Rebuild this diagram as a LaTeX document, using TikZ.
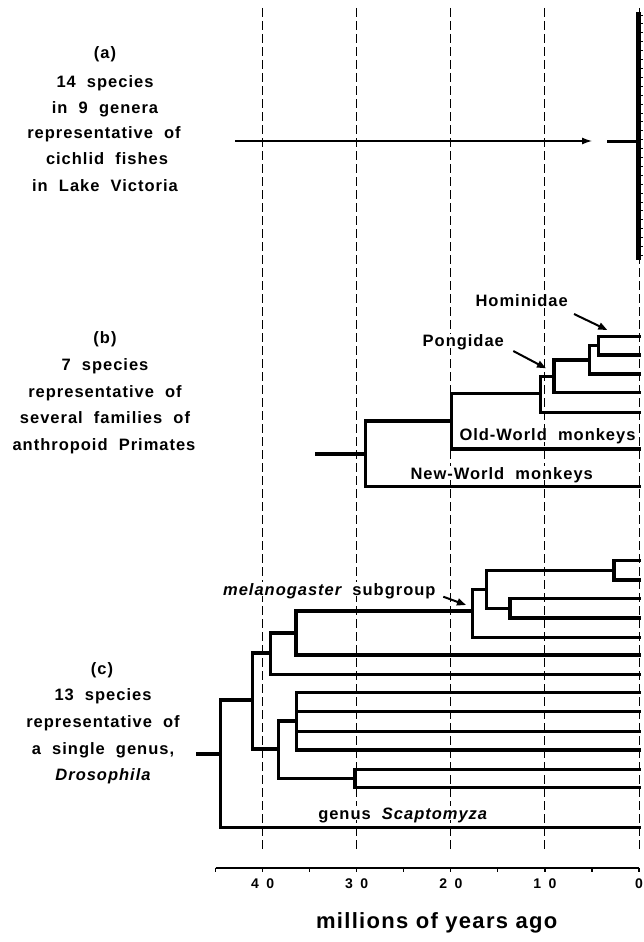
\documentclass[tikz,border=0pt]{standalone}
\usepackage{fontspec}
\setmainfont{Liberation Sans}
\newfontfamily\labfont[LetterSpace=6]{Liberation Sans}
\usetikzlibrary{arrows.meta}
\begin{document}
\begin{tikzpicture}[x=1pt,y=-1pt,
  tree/.style={line width=3.2pt, line cap=rect},
  guide/.style={line width=0.9pt, dash pattern=on 9pt off 4pt},
  lab/.style={font={\labfont\bfseries\fontsize{16.5}{19}\selectfont}, text height=11.8pt, text depth=0pt, inner sep=0pt},
  tlab/.style={lab, fill=white, inner xsep=2pt, inner ysep=1pt},
  axlab/.style={font={\bfseries\fontsize{14}{16}\selectfont}, text height=10pt, text depth=0pt, inner sep=0pt},
  larrow/.style={line width=2pt, -{Triangle[length=9pt,width=7pt]}}
]
\useasboundingbox (0,0) rectangle (643,942);

% ---------- vertical time guides ----------
\foreach \t in {0,10,20,30,40}{
  \coordinate (gt\t) at ({639-9.41*\t},8);
  \coordinate (gb\t) at ({639-9.41*\t},852);
  \draw[guide] (gt\t) -- (gb\t);
}

% ---------- (a) cichlids ----------
\node[lab] (a0) at (105,53)  {(a)};
\node[lab] (a1) at (105,82)  {14~~species};
\node[lab] (a2) at (105,108) {in~~9~~genera};
\node[lab] (a3) at (104,133) {representative~~of};
\node[lab] (a4) at (107,159) {cichlid~~fishes};
\node[lab] (a5) at (105,186) {in~~Lake~~Victoria};

\coordinate (aS) at (235,141);
\coordinate (aE) at (592,141);
\draw[line width=1.3pt, -{Latex[length=10pt,width=7pt]}] (aS) -- (aE);
\coordinate (aStem) at (607,141.5);
\coordinate (aRoot) at (638.5,141.5);
\draw[line width=3.2pt] (aStem) -- (aRoot);
\coordinate (aTop) at (638.5,12);
\coordinate (aBot) at (638.5,260);
\draw[line width=4.5pt] (aTop) -- (aBot);
\foreach \k in {0,...,27}{
  \draw[line width=0.8pt] (640,{15+8.9*\k}) -- ++(2.5,0);
}

% ---------- (b) primates ----------
\node[lab] (b0) at (105,338) {(b)};
\node[lab] (b1) at (105,365) {7~~species};
\node[lab] (b2) at (105,392) {representative~~of};
\node[lab] (b3) at (105,418) {several~~families~~of};
\node[lab] (b4) at (104,445) {anthropoid~~Primates};

\coordinate (bL1) at (639,336.7);
\coordinate (bL2) at (639,355);
\coordinate (bL3) at (639,374);
\coordinate (bL4) at (639,392.7);
\coordinate (bL5) at (639,412.3);
\coordinate (bL6) at (639,449);
\coordinate (bL7) at (639,486.7);
\coordinate (bH)  at (598.3,345.85);
\coordinate (bN2) at (589.3,360);
\coordinate (bN3) at (554,376.35);
\coordinate (bP)  at (540.7,393.65);
\coordinate (bN5) at (451.7,421);
\coordinate (bR)  at (365.7,454);
\coordinate (bS)  at (316.7,454);

\draw[tree] (bH) |- (bL1);  \draw[tree] (bH) |- (bL2);
\draw[tree] (bN2) |- (bH);  \draw[tree] (bN2) |- (bL3);
\draw[tree] (bN3) |- (bN2); \draw[tree] (bN3) |- (bL4);
\draw[tree] (bP) |- (bN3);  \draw[tree] (bP) |- (bL5);
\draw[tree] (bN5) |- (bP);  \draw[tree] (bN5) |- (bL6);
\draw[tree] (bR) |- (bN5);  \draw[tree] (bR) |- (bL7);
\draw[tree] (bS) -- (bR);

\node[tlab] (hom) at (521.7,300.7) {Hominidae};
\node[tlab] (pon) at (463.3,340.7) {Pongidae};
\node[tlab] (oldw) at (547.5,435) {Old-World~~monkeys};
\node[tlab] (neww) at (501.7,473.3) {New-World~~monkeys};

\coordinate (hA) at (574,314);   \coordinate (hB) at (607.3,330);
\coordinate (pA) at (513.3,351); \coordinate (pB) at (546,368.3);
\draw[larrow] (hA) -- (hB);
\draw[larrow] (pA) -- (pB);

% ---------- (c) Drosophila ----------
\node[lab] (c0) at (102,668.3) {(c)};
\node[lab] (c1) at (103,694.3) {13~~species};
\node[lab] (c2) at (103,721.7) {representative~~of};
\node[lab] (c3) at (103,748.3) {a~~single~~genus,};
\node[lab] (c4) at (103,775) {\itshape Drosophila};

\coordinate (cL1)  at (639,560.7);
\coordinate (cL2)  at (639,580);
\coordinate (cL3)  at (639,598.7);
\coordinate (cL4)  at (639,618);
\coordinate (cL5)  at (639,637.3);
\coordinate (cL6)  at (639,655);
\coordinate (cL7)  at (639,674.3);
\coordinate (cL8)  at (639,692.7);
\coordinate (cL9)  at (639,711.7);
\coordinate (cL10) at (639,731.7);
\coordinate (cL11) at (639,750);
\coordinate (cL12) at (639,769.3);
\coordinate (cL13) at (639,787.3);
\coordinate (cL14) at (639,827.7);
\coordinate (cA) at (614,570.35);
\coordinate (cC) at (510,608.35);
\coordinate (cB) at (486.7,589.2);
\coordinate (cD) at (472.3,611);
\coordinate (cE) at (296,633);
\coordinate (cF) at (270.7,653);
\coordinate (cI) at (296.7,721);
\coordinate (cJ) at (355,778.3);
\coordinate (cH) at (278.3,749);
\coordinate (cG) at (252.3,700);
\coordinate (cR) at (220.7,754);
\coordinate (cS) at (197.3,754);

\draw[tree] (cA) |- (cL1);  \draw[tree] (cA) |- (cL2);
\draw[tree] (cC) |- (cL3);  \draw[tree] (cC) |- (cL4);
\draw[tree] (cB) |- (cA);   \draw[tree] (cB) |- (cC);
\draw[tree] (cD) |- (cB);   \draw[tree] (cD) |- (cL5);
\draw[tree] (cE) |- (cD);   \draw[tree] (cE) |- (cL6);
\draw[tree] (cF) |- (cE);   \draw[tree] (cF) |- (cL7);
\draw[tree] (cI) |- (cL8);  \draw[tree] (cI) |- (cL9);
\draw[tree] (cI) |- (cL10); \draw[tree] (cI) |- (cL11);
\draw[tree] (cJ) |- (cL12); \draw[tree] (cJ) |- (cL13);
\draw[tree] (cH) |- (cI);   \draw[tree] (cH) |- (cJ);
\draw[tree] (cG) |- (cF);   \draw[tree] (cG) |- (cH);
\draw[tree] (cR) |- (cG);   \draw[tree] (cR) |- (cL14);
\draw[tree] (cS) -- (cR);

\node[tlab] (mel) at (329.3,589.3) {{\itshape melanogaster}~~subgroup};
\node[tlab] (scap) at (402.7,813.3) {genus~~{\itshape Scaptomyza}};
\coordinate (mA) at (443.3,596.7); \coordinate (mB) at (466,605);
\draw[larrow] (mA) -- (mB);

% ---------- time axis ----------
\coordinate (axL) at (215.5,868);
\coordinate (axR) at (639,868);
\draw[line width=1.3pt] (axL) -- (axR);
\foreach \t in {0,5,...,45}{
  \draw[line width=1.2pt] ({639-9.41*\t},867.5) -- ++(0,4.5);
}
\node[axlab] (t40) at ({639-9.41*40},883) {4\kern7.5pt0};
\node[axlab] (t30) at ({639-9.41*30},883) {3\kern7.5pt0};
\node[axlab] (t20) at ({639-9.41*20},883) {2\kern7.5pt0};
\node[axlab] (t10) at ({639-9.41*10},883) {1\kern7.5pt0};
\node[axlab] (t0)  at (639,883) {0};
\node[font={\labfont\bfseries\fontsize{22}{26}\selectfont}, inner sep=0pt, anchor=base] (axt) at (436.7,928.3) {millions of years ago};
\end{tikzpicture}
\end{document}
